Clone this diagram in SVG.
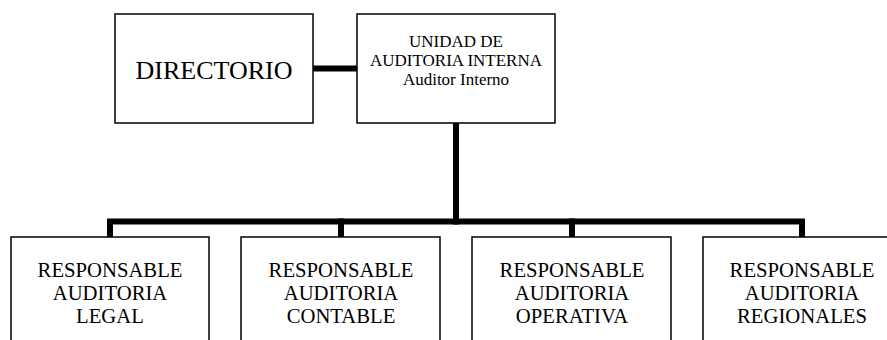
<svg xmlns="http://www.w3.org/2000/svg" width="887" height="340" viewBox="0 0 887 340">
<style>
.box{fill:#fff;stroke:#000;stroke-width:1.5}
.con{stroke:#000;stroke-width:6;fill:none;stroke-linecap:square}
.t{font-family:'Liberation Serif','DejaVu Serif',serif;fill:#000;text-anchor:middle}
.big{font-size:26px}
.mid{font-size:17px}
.low{font-size:20.7px}
</style>
<rect width="887" height="340" fill="#fff"/>
<g id="connectors">
<line class="con" x1="313" y1="68.5" x2="357" y2="68.5"/>
<line class="con" x1="456" y1="124" x2="456" y2="221.5"/>
<polyline class="con" points="110,236 110,221.5 802,221.5 802,236"/>
<line class="con" x1="341" y1="221.5" x2="341" y2="236"/>
<line class="con" x1="572" y1="221.5" x2="572" y2="236"/>
</g>
<g font-family="Liberation Serif, DejaVu Serif, serif">
<g id="directorio">
<rect class="box" x="115" y="14" width="198" height="109"/>
<text class="t big" x="214" y="79">DIRECTORIO</text>
</g>
<g id="unidad">
<rect class="box" x="357" y="14" width="198" height="109"/>
<text class="t mid" x="456" y="46.5">UNIDAD DE</text>
<text class="t mid" x="456" y="65.5">AUDITORIA INTERNA</text>
<text class="t mid" x="456" y="84.5">Auditor Interno</text>
</g>
<g id="legal">
<rect class="box" x="11" y="237" width="198" height="120"/>
<text class="t low" x="110" y="277">RESPONSABLE</text>
<text class="t low" x="110" y="300">AUDITORIA</text>
<text class="t low" x="110" y="323">LEGAL</text>
</g>
<g id="contable">
<rect class="box" x="241" y="237" width="199" height="120"/>
<text class="t low" x="341" y="277">RESPONSABLE</text>
<text class="t low" x="341" y="300">AUDITORIA</text>
<text class="t low" x="341" y="323">CONTABLE</text>
</g>
<g id="operativa">
<rect class="box" x="472" y="237" width="199" height="120"/>
<text class="t low" x="572" y="277">RESPONSABLE</text>
<text class="t low" x="572" y="300">AUDITORIA</text>
<text class="t low" x="572" y="323">OPERATIVA</text>
</g>
<g id="regionales">
<rect class="box" x="703" y="237" width="198" height="120"/>
<text class="t low" x="802" y="277">RESPONSABLE</text>
<text class="t low" x="802" y="300">AUDITORIA</text>
<text class="t low" x="802" y="323">REGIONALES</text>
</g>
</g>
</svg>
